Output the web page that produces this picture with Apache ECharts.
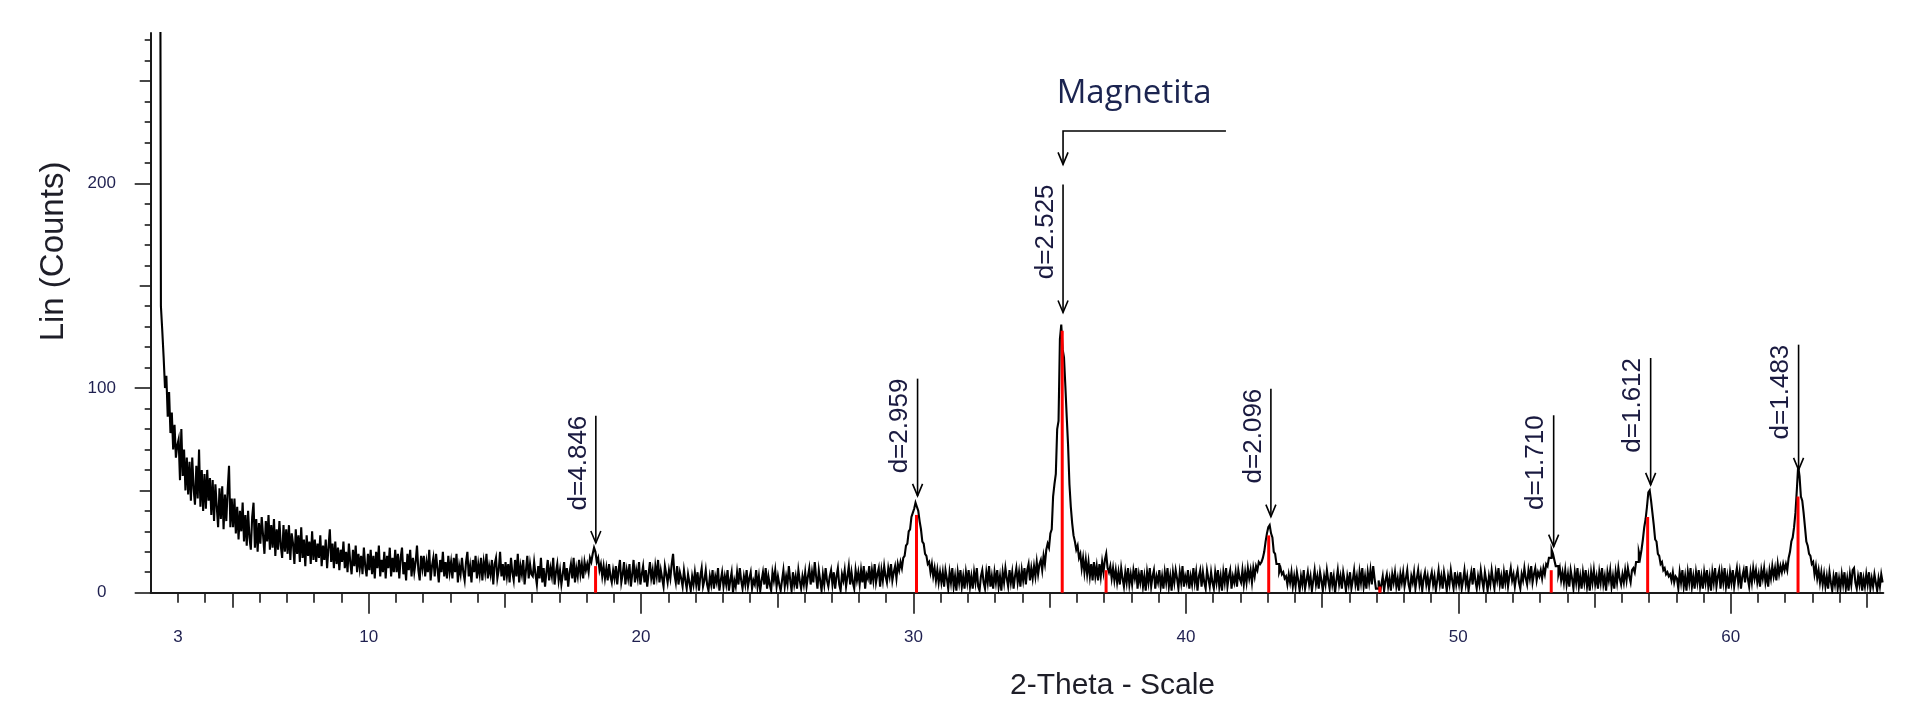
<!DOCTYPE html>
<html><head><meta charset="utf-8">
<script src="https://cdn.jsdelivr.net/npm/echarts@6.0.0/dist/echarts.min.js"></script>
<style>html,body{margin:0;padding:0;background:#fff}#chart{width:1911px;height:701px}</style>
</head><body><div id="chart"></div>
<script>
// Scan definition: first angle and step (degrees 2-theta)
const startAngle = 2.35;
const stepAngle = 0.05;
// Counts, one row per degree
const counts = [
330,140,128,115,100,106,86,98,78,88,70,82,66,72,
75,55,80,57,70,50,66,48,64,45,66,51,43,62,46,70,42,60,40,58,
41,60,45,56,38,55,35,53,42,32,51,36,52,31,48,35,50,62,32,46,
32,46,29,42,26,40,30,44,25,38,23,40,27,21,37,44,22,36,20,34,
24,37,28,19,35,25,38,21,33,22,36,18,31,21,35,23,17,33,20,31,
19,33,16,29,24,14,31,19,28,15,32,17,26,13,28,18,25,14,30,16,
26,15,24,17,28,13,23,16,26,12,22,31,15,24,12,25,14,22,11,21,
15,25,12,20,10,24,15,9,21,13,23,10,19,12,18,9,22,13,8,19,
11,21,9,18,7,20,12,23,8,16,10,20,7,18,12,22,8,17,10,21,
10,19,7,17,22,9,15,6,19,11,21,8,17,10,15,23,11,6,18,12,
18,8,15,10,21,6,13,17,8,19,12,5,16,10,20,8,15,7,18,10,
15,7,17,10,19,5,13,9,17,10,6,15,20,8,13,5,16,10,18,7,
14,9,17,6,15,10,19,7,13,9,16,4,14,17,7,11,20,8,14,6,
15,8,14,5,17,10,6,16,8,19,5,13,9,16,4,11,18,7,14,9,
8,15,9,4,13,7,17,5,12,3,10,16,6,12,8,17,4,10,14,6,
11,4,9,15,6,12,3,10,14,7,17,5,12,8,16,9,14,7,15,11,
14,10,17,15,19,22,20,15,17,11,14,8,13,7,12,6,14,8,5,11,
7,13,4,11,16,5,9,15,4,11,7,14,3,9,16,5,11,7,15,4,
9,13,5,11,3,9,15,7,11,4,13,8,16,5,11,7,3,13,9,5,
11,7,14,19,9,5,13,4,10,7,3,11,6,2,9,5,1,8,4,10,
4,10,1,8,12,3,6,11,4,1,8,4,11,2,8,5,12,1,6,10,
3,8,4,11,1,6,10,0,6,3,10,4,12,6,2,8,4,11,3,7,
10,2,6,4,11,3,8,1,6,10,4,12,2,8,4,1,10,6,11,3,
8,4,1,6,11,3,8,4,13,6,1,10,4,8,2,11,6,2,8,4,
10,3,8,12,4,10,5,15,8,2,11,6,1,9,4,12,6,3,8,11,
4,10,2,8,12,4,1,9,6,11,3,8,13,4,10,5,2,11,6,10,
4,11,5,13,2,9,7,13,4,11,6,14,5,9,12,3,11,6,13,8,
5,12,8,14,6,10,13,7,14,11,15,12,17,18,23,24,30,31,37,39,
41,44,42,40,35,31,25,24,19,18,14,15,10,14,8,12,6,11,5,10,
5,10,3,11,7,2,10,5,12,3,8,1,10,5,11,3,8,2,10,5,
11,3,8,2,10,5,12,3,1,8,11,5,2,10,5,13,3,8,2,10,
5,11,3,8,1,10,5,12,7,3,11,5,10,2,8,12,5,10,3,11,
6,12,4,11,14,6,12,7,13,8,15,9,14,16,11,18,14,21,24,22,
29,31,47,53,58,80,84,124,131,119,115,101,86,72,53,42,34,28,25,21,
23,17,19,12,17,10,16,9,15,8,14,6,15,8,13,6,14,8,15,10,
16,19,12,10,13,7,12,6,11,5,10,4,12,7,3,10,5,12,4,9,
4,11,7,12,2,9,5,11,3,8,1,10,5,12,3,8,11,2,8,5,
11,3,8,2,10,5,12,3,8,1,10,5,11,7,2,10,5,13,3,8,
5,11,2,8,4,12,5,10,1,8,11,3,10,5,2,11,7,3,10,5,
2,10,5,11,3,8,1,10,5,12,3,8,11,2,8,5,10,3,11,7,
5,11,4,10,5,12,7,11,5,12,8,13,11,15,14,15,17,20,25,29,
32,33,29,27,20,19,14,14,10,12,9,10,7,8,4,9,5,10,3,8,
3,10,6,1,8,4,11,2,6,10,4,8,1,6,11,4,8,2,10,6,
1,8,4,11,6,2,10,4,8,0,6,11,4,8,2,10,6,1,8,4,
10,2,6,11,4,8,1,10,5,12,3,8,2,10,5,11,4,13,7,2,
2,6,0,4,8,1,6,9,3,7,1,9,5,10,3,7,1,9,5,10,
3,7,11,4,1,8,5,10,2,7,11,4,8,1,7,10,4,8,2,7,
10,4,8,1,6,11,4,8,2,10,6,1,8,4,11,6,2,10,4,8,
4,10,2,6,11,4,8,1,6,10,4,12,6,2,8,4,11,6,2,10,
6,1,8,4,11,6,2,10,6,12,4,8,2,10,5,11,3,8,12,6,
9,3,8,11,5,2,9,6,12,7,4,11,7,13,5,9,12,6,10,8,
11,7,12,9,14,13,17,17,21,19,16,13,13,9,12,6,10,5,11,4,
9,3,11,7,2,10,5,12,3,8,2,10,5,11,3,8,1,10,5,11,
4,8,2,10,5,12,4,8,1,10,6,11,3,8,2,10,5,12,7,4,
9,5,11,6,12,8,5,11,12,10,15,15,20,17,21,26,32,36,42,49,
50,45,39,33,26,25,19,18,14,15,11,12,9,10,8,9,6,10,5,8,
7,2,10,5,11,3,8,1,10,5,12,3,8,2,10,5,11,3,8,2,
10,5,11,3,8,1,10,5,12,3,8,11,2,10,5,12,3,8,2,10,
5,11,3,8,12,5,10,2,8,11,5,13,7,3,10,5,12,7,11,5,
9,3,11,7,12,5,9,3,11,7,13,8,12,6,14,9,13,10,14,11,
14,11,17,20,25,27,32,39,50,62,57,47,45,39,32,25,23,19,18,14,
15,9,13,7,11,5,10,4,9,3,8,2,10,5,1,8,4,10,2,7,
2,9,4,10,2,7,1,9,4,11,12,5,2,8,4,10,1,7,3,9,
4,10,2,7,3,9,5,1,7,3,9,5
];

// Axis ticks / labels
const xLabelValues = [3, 10, 20, 30, 40, 50, 60];
const yLabelValues = [0, 100, 200];
const xRange = [2, 65.6];
const yRange = [0, 273.5];

// Reference pattern sticks (red)
const stickAngles = [18.33, 30.11, 35.46, 37.07, 43.04, 47.12, 53.41, 56.95, 62.47];
const stickHeights = [13, 38, 128, 11, 28, 3, 11, 37, 47];

// d-spacing annotations
const peakAngles = [18.34, 30.15, 35.49, 43.12, 53.50, 57.06, 62.49];
const peakLabels = ['d=4.846', 'd=2.959', 'd=2.525', 'd=2.096', 'd=1.710', 'd=1.612', 'd=1.483'];
const arrowTop = [86.5, 104.6, 199.5, 99.7, 86.7, 114.7, 121.2];
const arrowTip = [24.3, 47.3, 136.9, 37.2, 22.5, 52.7, 60];

// Phase bracket: [angle of arrow, angle of bracket end, bracket level, arrow tip]
const phaseName = 'Magnetita';
const phaseBracket = [35.49, 41.47, 225.6, 209.3];
const phaseLabelPos = [38.1, 243.8];

const scanData = counts.map((c, i) => [+(startAngle + i * stepAngle).toFixed(2), c]);

const ink = '#1a1a1a';
const labelColor = '#1f2050';
const xMinor = [], xMid = [], xMajor = [];
for (let v = 3; v <= 65; v++) { if (v % 10 === 0) xMajor.push(v); else if (v % 5 === 0) xMid.push(v); else xMinor.push(v); }
const yMinor = [], yMid = [], yMajor = [];
for (let v = 0; v <= 270; v += 10) { if (v % 100 === 0) yMajor.push(v); else if (v % 50 === 0) yMid.push(v); else yMinor.push(v); }

function xLayer(ticks, len, line, labels) {
  return {
    type: 'value', gridIndex: 0, min: xRange[0], max: xRange[1], position: 'bottom',
    axisLine: { show: line, onZero: false, lineStyle: { color: ink, width: 2 } },
    axisTick: { show: true, customValues: ticks, length: len, lineStyle: { color: ink, width: 1.6 } },
    axisLabel: { show: labels, customValues: xLabelValues, margin: 36, color: labelColor, fontSize: 17, fontFamily: 'Liberation Sans' },
    splitLine: { show: false }
  };
}
function yLayer(ticks, len, line, labels) {
  return {
    type: 'value', gridIndex: 0, min: yRange[0], max: yRange[1], position: 'left',
    axisLine: { show: line, onZero: false, lineStyle: { color: ink, width: 2 } },
    axisTick: { show: true, customValues: ticks, length: len, lineStyle: { color: ink, width: 1.6 } },
    axisLabel: { show: labels, customValues: yLabelValues, margin: 49, align: 'center', color: labelColor, fontSize: 17, fontFamily: 'Liberation Sans' },
    splitLine: { show: false }
  };
}

const chart = echarts.init(document.getElementById('chart'), null, { renderer: 'canvas' });
chart.setOption({
  animation: false,
  backgroundColor: '#fff',
  grid: { left: 150.7, right: 27.7, top: 33, bottom: 108.3, containLabel: false, outerBoundsMode: 'none' },
  xAxis: [xLayer(xMinor, 10, true, true), xLayer(xMid, 15, false, false), xLayer(xMajor, 21, false, false)],
  yAxis: [yLayer(yMinor, 6, true, true), yLayer(yMid, 11, false, false), yLayer(yMajor, 16, false, false)],
  graphic: [
    { type: 'text', x: 54, y: 251.5, rotation: Math.PI / 2,
      style: { text: 'Lin (Counts)', font: '33px "Liberation Sans"', fill: '#1e1e28', align: 'center', verticalAlign: 'middle' } },
    { type: 'text', x: 1112.5, y: 686,
      style: { text: '2-Theta - Scale', font: '30px "Liberation Sans"', fill: '#1e1e28', align: 'center', verticalAlign: 'middle' } }
  ],
  series: [
    { type: 'line', data: scanData, xAxisIndex: 0, yAxisIndex: 0, showSymbol: false, symbol: 'none', step: 'middle',
      lineStyle: { color: '#000', width: 2.1, join: 'miter' }, clip: true, z: 2, silent: true },
    { type: 'custom', coordinateSystem: 'cartesian2d', xAxisIndex: 0, yAxisIndex: 0, z: 3, silent: true,
      data: stickAngles.map((a, i) => [a, stickHeights[i]]),
      renderItem: (params, api) => {
        const p0 = api.coord([api.value(0), 0]);
        const p1 = api.coord([api.value(0), api.value(1)]);
        return { type: 'line', shape: { x1: p0[0], y1: p0[1], x2: p1[0], y2: p1[1] }, style: { stroke: '#ff0000', lineWidth: 3 } };
      } },
    { type: 'custom', coordinateSystem: 'cartesian2d', xAxisIndex: 0, yAxisIndex: 0, z: 4, silent: true,
      data: peakAngles.map((a, i) => [a, arrowTop[i], arrowTip[i], i]),
      renderItem: (params, api) => {
        const top = api.coord([api.value(0), api.value(1)]);
        const tip = api.coord([api.value(0), api.value(2)]);
        return { type: 'group', children: [
          { type: 'line', shape: { x1: top[0], y1: top[1], x2: tip[0], y2: tip[1] }, style: { stroke: '#000', lineWidth: 1.6 } },
          { type: 'polyline', shape: { points: [[tip[0] - 5, tip[1] - 12], [tip[0], tip[1]], [tip[0] + 5, tip[1] - 12]] }, style: { stroke: '#000', lineWidth: 1.6, fill: null } },
          { type: 'text', x: top[0] - 17.5, y: top[1], rotation: Math.PI / 2,
            style: { text: peakLabels[api.value(3)], x: 0, y: 0, font: '26px "Liberation Sans"', fill: '#1a1a40', align: 'right', verticalAlign: 'middle' } }
        ] };
      } },
    { type: 'custom', coordinateSystem: 'cartesian2d', xAxisIndex: 0, yAxisIndex: 0, z: 4, silent: true,
      data: [[phaseBracket[0], phaseBracket[1], phaseBracket[2], phaseBracket[3], phaseLabelPos[0], phaseLabelPos[1]]],
      renderItem: (params, api) => {
        const a = api.coord([api.value(0), api.value(2)]);
        const b = api.coord([api.value(1), api.value(2)]);
        const tip = api.coord([api.value(0), api.value(3)]);
        const t = api.coord([api.value(4), api.value(5)]);
        return { type: 'group', children: [
          { type: 'polyline', shape: { points: [[b[0], b[1]], [a[0], a[1]], [tip[0], tip[1]]] }, style: { stroke: '#000', lineWidth: 1.6, fill: null } },
          { type: 'polyline', shape: { points: [[tip[0] - 5, tip[1] - 12], [tip[0], tip[1]], [tip[0] + 5, tip[1] - 12]] }, style: { stroke: '#000', lineWidth: 1.6, fill: null } },
          { type: 'text', x: t[0], y: t[1],
            style: { text: phaseName, x: 0, y: 0, font: '33px "Open Sans"', fill: '#1b2450', align: 'center', verticalAlign: 'middle' } }
        ] };
      } }
  ]
});
</script></body></html>
